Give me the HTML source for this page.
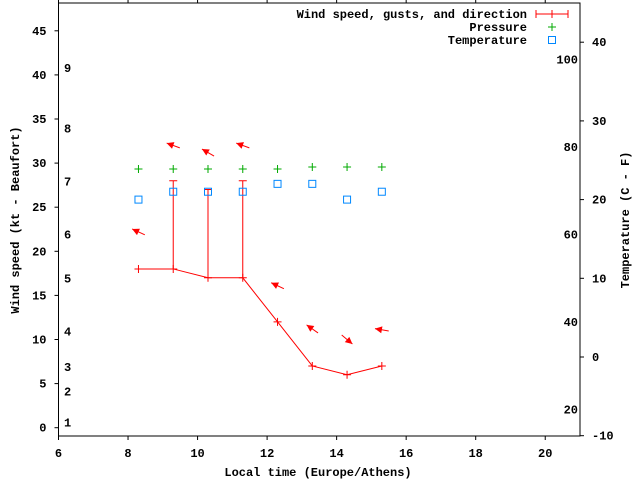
<!DOCTYPE html>
<html><head><meta charset="utf-8"><style>
body{margin:0;background:#fff}
svg text{font-family:"Liberation Mono",monospace;font-weight:bold;font-size:12px;fill:#000}
</style></head><body>
<svg id="chart" width="640" height="480" xmlns="http://www.w3.org/2000/svg"></svg>
<script>
const times=[8.3,9.3,10.3,11.3,12.3,13.3,14.3,15.3];
const windSpeed=[18,18,17,17,12,7,6,7];
const gustTimes=[9.3,10.3,11.3];
const gustSpeed=[28,27,28];
const pressure=[1012,1012,1012,1012,1012,1013,1013,1013];
const temperature=[20,21,21,21,22,22,20,21];
const arrowLevel=[22.2,32,31.2,32,16.1,11.2,10,11.1];
const arrowAngle=[155,160,150,160,155,145,-40,170];
const xTicks=[6,8,10,12,14,16,18,20];
const yTicks=[0,5,10,15,20,25,30,35,40,45];
const tTicks=[-10,0,10,20,30,40];
const fLabels=[20,40,60,80,100];
const bftLevels=[1,2,3,4,5,6,7,8,9];
const bftY=[0.6,4.1,6.9,10.9,16.9,21.9,27.9,33.9,40.8];

const L=58.5,R=580,T=3,B=436;
const X=v=>L+(v-6)*(R-L)/15;
const Y=v=>427.7-v*8.82;
const TY=c=>357-c*7.87;
const FY=f=>TY((f-32)*5/9);
const PY=p=>169-(p-1012)*2;
const svg=document.getElementById('chart');
const NS='http://www.w3.org/2000/svg';
function mk(t,a,p){const e=document.createElementNS(NS,t);for(const k in a)e.setAttribute(k,a[k]);(p||svg).appendChild(e);return e;}
function txt(x,y,s,anchor){const e=mk('text',{x:x,y:y,'text-anchor':anchor||'start'});e.textContent=s;return e;}

let f=mk('rect',{x:L,y:T,width:R-L,height:B-T,fill:'none',stroke:'#000','stroke-width':1});


xTicks.forEach(v=>{
 const l=mk('line',{x1:X(v),x2:X(v),y1:B,y2:B+4,stroke:'#000'});
 
 mk('line',{x1:X(v),x2:X(v),y1:T,y2:T-4,stroke:'#000'});
 const t=txt(X(v),B+21,String(v),'middle');
 
});
yTicks.forEach(v=>{
 const l=mk('line',{x1:L-4,x2:L,y1:Y(v),y2:Y(v),stroke:'#000'});
 
 const t=txt(L-12,Y(v)+4,String(v),'end');
 
});
tTicks.forEach(v=>{
 const l=mk('line',{x1:R,x2:R+4,y1:TY(v),y2:TY(v),stroke:'#000'});
 
 const t=txt(R+12,TY(v)+4,String(v),'start');
 
});
fLabels.forEach(v=>{
 const t=txt(R-2,FY(v)+4,String(v),'end');
 
});
bftLevels.forEach((v,i)=>{
 const t=txt(64,Y(bftY[i])+4,String(v),'start');
 
});

let xt=txt(318,476,'Local time (Europe/Athens)','middle');

let yt=txt(0,0,'Wind speed (kt - Beaufort)','middle');yt.setAttribute('transform','translate(19,220) rotate(-90)');

let rt=txt(0,0,'Temperature (C - F)','middle');rt.setAttribute('transform','translate(629,220) rotate(-90)');


// wind line
let pts=times.map((t,i)=>X(t)+','+Y(windSpeed[i])).join(' ');
let pl=mk('polyline',{points:pts,fill:'none',stroke:'#f00','stroke-width':1});

times.forEach((t,i)=>{
 const g=mk('path',{d:`M${X(t)-4},${Y(windSpeed[i])}h8M${X(t)},${Y(windSpeed[i])-4}v8`,stroke:'#f00'});
 
});
gustTimes.forEach((t,i)=>{
 const wi=times.indexOf(t);
 const g=mk('path',{d:`M${X(t)},${Y(windSpeed[wi])}V${Y(gustSpeed[i])}M${X(t)-4},${Y(gustSpeed[i])}h8`,stroke:'#f00',fill:'none'});
 
});
// pressure
times.forEach((t,i)=>{
 const g=mk('path',{d:`M${X(t)-4},${PY(pressure[i])}h8M${X(t)},${PY(pressure[i])-4}v8`,stroke:'#0a0'});
 
});
// temperature
times.forEach((t,i)=>{
 const r=mk('rect',{x:X(t)-3.5,y:TY(temperature[i])-3.5,width:7,height:7,fill:'none',stroke:'#08f'});
 
});
// direction arrows
times.forEach((t,i)=>{
 const a=arrowAngle[i]*Math.PI/180,dx=Math.cos(a),dy=-Math.sin(a);
 const cx=X(t),cy=Y(arrowLevel[i]);
 const hx=cx+dx*7,hy=cy+dy*7,tx=cx-dx*7,ty=cy-dy*7;
 const px=-dy,py=dx;
 const g=mk('g',{});
 
 mk('line',{x1:tx,y1:ty,x2:hx,y2:hy,stroke:'#f00'},g);
 mk('polygon',{points:`${hx},${hy} ${hx-dx*7+px*3.5},${hy-dy*7+py*3.5} ${hx-dx*7-px*3.5},${hy-dy*7-py*3.5}`,fill:'#f00'},g);
});
// legend
const lg=mk('g',{});
[['Wind speed, gusts, and direction',18],['Pressure',31],['Temperature',44]].forEach((e,i)=>{
 const t=mk('text',{x:527,y:e[1],'text-anchor':'end'},lg);t.textContent=e[0];
 
});
mk('path',{d:'M536,14h32M536,10v8M568,10v8M552,10v8',stroke:'#f00',fill:'none'},lg);
mk('path',{d:'M548,27h8M552,23v8',stroke:'#0a0'},lg);
mk('rect',{x:548.5,y:36.5,width:7,height:7,fill:'none',stroke:'#08f'},lg);
</script>
</body></html>
